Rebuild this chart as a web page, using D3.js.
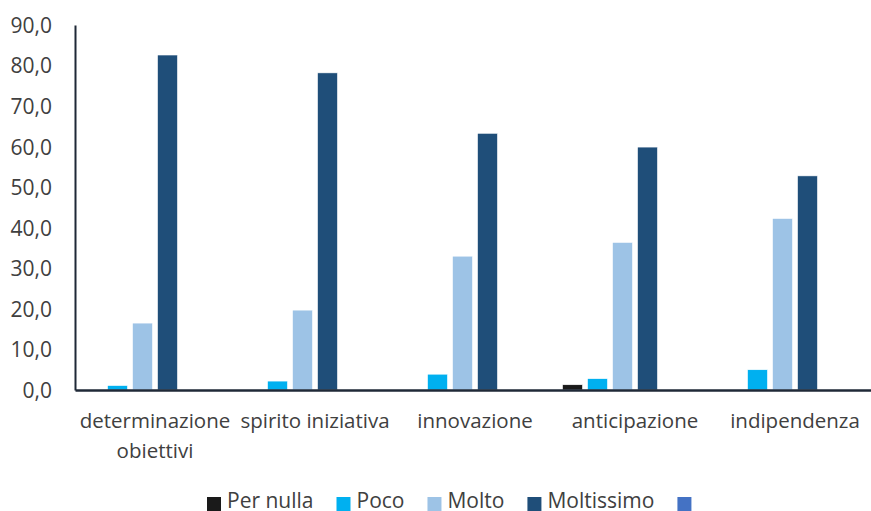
<!DOCTYPE html>
<html>
<head>
<meta charset="utf-8">
<script src="https://cdn.jsdelivr.net/npm/d3@7"></script>
<style>
    body { margin: 0; background: #fff; }
    svg text { font-family: "Open Sans", sans-serif; fill: #404040; }
</style>
</head>
<body>
<div id="chart"></div>
<script>
// data
const categories = ['determinazione obiettivi', 'spirito iniziativa', 'innovazione', 'anticipazione', 'indipendenza'];
const categoryLines = [['determinazione', 'obiettivi'], ['spirito iniziativa'], ['innovazione'], ['anticipazione'], ['indipendenza']];
const seriesNames = ['Per nulla', 'Poco', 'Molto', 'Moltissimo', '', ' '];
const seriesColors = ['#1a1a1a', '#00b0f0', '#9dc3e6', '#1f4e79', '#4472c4', '#ed7d31'];
const perNulla = [0, 0, 0, 1.3, 0];
const poco = [1.1, 2.2, 3.9, 2.8, 5.0];
const molto = [16.5, 19.7, 33.0, 36.4, 42.3];
const moltissimo = [82.6, 78.2, 63.3, 59.9, 52.8];
const empty = [null, null, null, null, null];
const yTicks = [0, 10, 20, 30, 40, 50, 60, 70, 80, 90];
const legendCount = 5; // last series is cut off in the legend

const seriesValues = [perNulla, poco, molto, moltissimo, empty, empty];

class GroupedBars
{
    width; height; margin;
    svg; chart;
    scaleX; scaleSeries; scaleY;

    constructor(container, width, height, margin) {
        this.width = width;
        this.height = height;
        this.margin = margin; // [top, bottom, left, right]

        this.svg = d3.select(container)
            .append('svg')
            .attr('width', width)
            .attr('height', height);
        this.chart = this.svg.append('g')
            .attr('transform', `translate(${margin[2]}, ${margin[0]})`);
    }

    #updateScales() {
        let chartWidth = this.width - this.margin[2] - this.margin[3],
            chartHeight = this.height - this.margin[0] - this.margin[1];
        this.scaleX = d3.scaleBand(categories, [0, chartWidth]);
        this.scaleSeries = d3.scaleBand(seriesNames, [0, this.scaleX.bandwidth()])
            .paddingInner(0.2)
            .paddingOuter(0.3);
        this.scaleY = d3.scaleLinear([0, 90], [chartHeight, 0]);
    }

    #updateBars() {
        let groups = this.chart.selectAll('g.group')
            .data(categories)
            .join('g')
            .classed('group', true)
            .attr('transform', d => `translate(${this.scaleX(d)}, 0)`);

        groups.selectAll('rect')
            .data((c, i) => seriesNames.map((s, j) => ({ s: s, j: j, v: seriesValues[j][i] })))
            .join('rect')
            .filter(d => d.v != null)
            .attr('x', d => this.scaleSeries(d.s))
            .attr('y', d => this.scaleY(d.v))
            .attr('width', this.scaleSeries.bandwidth())
            .attr('height', d => this.scaleY(0) - this.scaleY(d.v))
            .attr('fill', d => seriesColors[d.j])
            .attr('stroke', '#ffffff')
            .attr('stroke-width', 0.6);
    }

    #updateAxes() {
        let chartHeight = this.height - this.margin[0] - this.margin[1];

        let axisY = this.chart.append('g')
            .call(d3.axisLeft(this.scaleY)
                .tickValues(yTicks)
                .tickSize(0)
                .tickPadding(23)
                .tickFormat(d => d3.format('.1f')(d).replace('.', ',')));
        axisY.select('.domain').attr('stroke', '#1f2937').attr('stroke-width', 2);
        axisY.selectAll('text')
            .style('font-size', '21px')
            .attr('fill', '#404040')
            .attr('dy', '0.35em');

        let axisX = this.chart.append('g')
            .attr('transform', `translate(0, ${chartHeight})`)
            .call(d3.axisBottom(this.scaleX).tickSize(0).tickFormat(''));
        axisX.select('.domain').attr('stroke', '#1f2937').attr('stroke-width', 2.5);

        // wrapped category labels
        this.chart.append('g')
            .selectAll('text')
            .data(categories)
            .join('text')
            .attr('x', d => this.scaleX(d) + this.scaleX.bandwidth() / 2)
            .attr('y', chartHeight + 38)
            .style('text-anchor', 'middle')
            .style('font-size', '20.5px')
            .selectAll('tspan')
            .data((d, i) => categoryLines[i])
            .join('tspan')
            .attr('x', function () { return d3.select(this.parentNode).attr('x'); })
            .attr('dy', (d, i) => i === 0 ? 0 : 29.5)
            .text(d => d);
    }

    #updateLegend() {
        let legend = this.svg.append('g')
            .attr('transform', 'translate(207, 497)');
        let x = 0;
        seriesNames.slice(0, legendCount).forEach((name, i) => {
            let item = legend.append('g').attr('transform', `translate(${x}, 0)`);
            item.append('rect')
                .attr('width', 14)
                .attr('height', 14)
                .attr('fill', seriesColors[i]);
            let label = item.append('text')
                .attr('x', 20)
                .attr('y', 11)
                .style('font-size', '21px')
                .text(name);
            x += 20 + label.node().getComputedTextLength() + 23;
        });
    }

    render() {
        this.#updateScales();
        this.#updateBars();
        this.#updateAxes();
        this.#updateLegend();
        return this;
    }
}

new GroupedBars('#chart', 871, 511, [25, 121, 75, -4]).render();
</script>
</body>
</html>
